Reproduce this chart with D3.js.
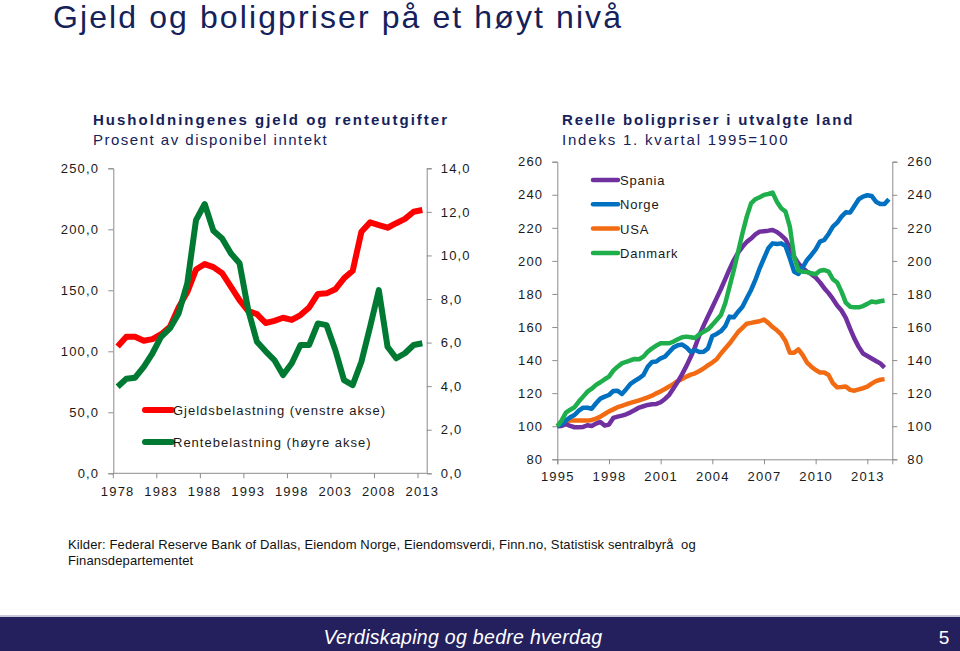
<!DOCTYPE html>
<html>
<head>
<meta charset="utf-8">
<script src="https://cdn.jsdelivr.net/npm/d3@7"></script>
<style>
  body { margin: 0; background: #fff; }
  svg { display: block; font-family: "Liberation Sans", Arial, sans-serif; }
</style>
</head>
<body>
<svg id="chart" width="960" height="651"></svg>
<script>
// left panel: household debt and interest burden, annual 1978-2013
var debtYears = d3.range(1978, 2014);
var gjeld = [104, 112, 112, 108.7, 110, 114, 120, 136, 148.5, 167, 171.5, 169, 164, 153, 142, 133,
    130.5, 123.2, 125, 127.5, 125.7, 129.7, 136, 147, 147.5, 150.8, 159.8, 166, 198, 205.7, 203.5,
    201.3, 205, 208.5, 214.4, 215.8];
var rente = [3.97, 4.34, 4.39, 4.89, 5.51, 6.27, 6.65, 7.34, 8.72, 11.62, 12.36, 11.13, 10.78, 10.1,
    9.64, 7.49, 6.04, 5.6, 5.2, 4.51, 5.05, 5.89, 5.89, 6.88, 6.8, 5.66, 4.28, 4.05, 5.12, 6.73, 8.41,
    5.81, 5.28, 5.51, 5.89, 5.97];
var debtYearLabels = [1978, 1983, 1988, 1993, 1998, 2003, 2008, 2013];
var leftTicks = [0, 50, 100, 150, 200, 250];
var rightTicks = [0, 2, 4, 6, 8, 10, 12, 14];

// right panel: real house prices, quarterly from 1995Q1
var startYear = 1995;
var spania = [100, 100.2, 101.2, 100.2, 99.4, 99.4, 99.6, 100.6, 100.2, 101.6, 102.6, 100.4,
    101, 105, 105.8, 106.4, 107.2, 108.4, 109.8, 111.3, 112.1, 112.9, 113.3, 113.5,
    114.5, 116.5, 119, 123, 127, 131.5, 136.5, 142, 148, 155, 161, 166.5,
    172, 177.5, 183, 189, 195, 200.5, 205, 208.5, 211.5, 213.5, 216, 217.7,
    218, 218.3, 218.7, 217.5, 215.5, 213, 208, 202.5, 198.5, 195.5, 193.5, 192,
    190, 187, 183.5, 180.5, 177, 173, 170, 165.5, 159, 153, 148, 144,
    142.5, 141, 139.5, 138, 135.5];
var norge = [100, 101.2, 103.4, 105.4, 106.8, 109.4, 111.2, 111.2, 110.6, 113.9, 116.7, 117.9,
    118.9, 121.3, 121.5, 119.5, 122.4, 125.6, 127.4, 129, 131, 136, 138.9, 139.1,
    141.1, 142.1, 144.9, 147.7, 149, 149.4, 147.7, 144.9, 146.1, 144.9, 145.1, 147.1,
    154.6, 155.8, 157.5, 160.5, 166.3, 165.9, 169.3, 172.3, 177.4, 182.4, 188.5, 195.5,
    201.6, 207.6, 210.6, 210.2, 210.6, 209, 201.6, 193.5, 192.1, 196.1, 200.6, 203.6,
    207, 211.7, 212.7, 216.3, 220.7, 223.1, 226.8, 229.4, 229.2, 233.2, 237.3, 238.9,
    239.7, 239.3, 235.8, 234.4, 234.4, 237.3];
var usa = [100, 102.2, 103.2, 103.4, 103.4, 103.4, 103.4, 103.4, 103.8, 104.6, 105.8, 107.4,
    109, 110.2, 111.5, 112.3, 113.3, 114.1, 114.9, 115.7, 116.5, 117.5, 118.5, 119.9,
    121.1, 122.5, 124.1, 125.6, 127.4, 128.6, 130, 131.2, 132, 133.4, 135, 136.9,
    138.5, 140.5, 144, 147, 150, 153.5, 157, 159.5, 162, 162.5, 163, 163.5,
    164.5, 162.5, 160, 158, 155.5, 151.5, 144.5, 144.5, 146.5, 143, 138.5, 136,
    134, 132.5, 132.5, 131, 126, 123.5, 123.7, 124, 122, 121.5, 122.3, 123,
    124, 125.8, 127.3, 128.1, 128.5];
var danmark = [100, 103.4, 108.2, 110, 111.5, 114.9, 117.9, 120.9, 122.7, 125, 126.6, 128.4,
    130, 133.6, 136, 138, 139, 139.9, 140.7, 140.5, 142.1, 145.1, 147.1, 148.8,
    150.2, 150.2, 150.2, 151.2, 152.6, 153.8, 154.2, 153.8, 153.4, 155.6, 157.2, 158.6,
    161.3, 164.3, 167.3, 174.4, 184.4, 194.5, 205.6, 216.7, 226.8, 234.8, 237.3, 238.5,
    239.9, 240.5, 241.3, 235.8, 231.8, 229.8, 220.7, 202.6, 194.1, 193.5, 193.3, 192.5,
    191.9, 194.1, 194.5, 193.5, 188.9, 186.9, 181.4, 174.8, 172.3, 171.9, 171.9, 172.7,
    174, 175.4, 175, 175.6, 176];
var priceYearLabels = [1995, 1998, 2001, 2004, 2007, 2010, 2013];
var priceTicks = [80, 100, 120, 140, 160, 180, 200, 220, 240, 260];

var navy = "#15215a",
    axisGrey = "#8c8c8c",
    labelColor = "#1a1a1a";

var svg = d3.select("#chart");

// title
svg.append("text")
    .attr("x", 53).attr("y", 28)
    .attr("font-size", 32).attr("fill", navy)
    .attr("letter-spacing", 2.1)
    .text("Gjeld og boligpriser på et høyt nivå");

function heading(x, title, sub, sp1, sp2) {
    svg.append("text").attr("x", x).attr("y", 125)
        .attr("font-size", 15).attr("font-weight", "bold").attr("fill", navy)
        .attr("letter-spacing", sp1)
        .text(title);
    svg.append("text").attr("x", x).attr("y", 145)
        .attr("font-size", 15).attr("fill", navy)
        .attr("letter-spacing", sp2)
        .text(sub);
}
heading(93, "Husholdningenes gjeld og renteutgifter", "Prosent av disponibel inntekt", 2, 1.5);
heading(562, "Reelle boligpriser i utvalgte land", "Indeks 1. kvartal 1995=100", 1.8, 1.8);

function styleAxis(g) {
    g.select(".domain").attr("stroke", axisGrey);
    g.selectAll(".tick line").attr("stroke", axisGrey);
    g.selectAll(".tick text")
        .attr("fill", labelColor)
        .attr("font-size", 13)
        .attr("letter-spacing", 1.2)
        .attr("font-family", "'Liberation Sans', Arial, sans-serif");
}

var fmt = function (d) { return d3.format(".1f")(d).replace(".", ","); };

// ---------- left panel ----------
var xL = d3.scaleBand().domain(debtYears).range([113.3, 426.7]);
var yL = d3.scaleLinear().domain([0, 250]).range([473.3, 168.3]);
var yR = d3.scaleLinear().domain([0, 14]).range([473.3, 168.3]);
var cx = function (yr) { return xL(yr) + xL.bandwidth() / 2; };

svg.append("g").attr("transform", "translate(113.3,0)")
    .call(d3.axisLeft(yL).tickValues(leftTicks).tickFormat(fmt).tickSize(5).tickPadding(9))
    .call(styleAxis);
svg.append("g").attr("transform", "translate(426.7,0)")
    .call(d3.axisRight(yR).tickValues(rightTicks).tickFormat(fmt).tickSize(5).tickPadding(9))
    .call(styleAxis);

var xAxisL = svg.append("g").attr("transform", "translate(0,473.3)");
xAxisL.append("line").attr("x1", 113.3).attr("x2", 426.7).attr("stroke", axisGrey);
xAxisL.selectAll("line.tk").data(debtYearLabels).join("line").attr("class", "tk")
    .attr("x1", function (d) { return xL(d); }).attr("x2", function (d) { return xL(d); })
    .attr("y1", 0).attr("y2", 5).attr("stroke", axisGrey);
xAxisL.selectAll("text").data(debtYearLabels).join("text")
    .attr("x", function (d) { return cx(d); }).attr("y", 23)
    .attr("text-anchor", "middle").attr("font-size", 13).attr("letter-spacing", 1.2)
    .attr("fill", labelColor)
    .text(function (d) { return d; });

var lineL = d3.line().x(function (d, i) { return cx(debtYears[i]); });
svg.append("path")
    .attr("d", lineL.y(function (d) { return yL(d); })(gjeld))
    .attr("fill", "none").attr("stroke", "#ff0000").attr("stroke-width", 6)
    .attr("stroke-linejoin", "round");
svg.append("path")
    .attr("d", lineL.y(function (d) { return yR(d); })(rente))
    .attr("fill", "none").attr("stroke", "#007a33").attr("stroke-width", 6)
    .attr("stroke-linejoin", "round");

var legendL = [
    { name: "Gjeldsbelastning (venstre akse)", color: "#ff0000", y: 410 },
    { name: "Rentebelastning (høyre akse)", color: "#007a33", y: 442 }
];
legendL.forEach(function (d) {
    svg.append("line").attr("x1", 145).attr("x2", 172).attr("y1", d.y).attr("y2", d.y)
        .attr("stroke", d.color).attr("stroke-width", 6).attr("stroke-linecap", "round");
    svg.append("text").attr("x", 173).attr("y", d.y + 5)
        .attr("font-size", 13).attr("letter-spacing", 1).attr("fill", labelColor)
        .text(d.name);
});

// ---------- right panel ----------
var xP = d3.scaleLinear().domain([1995, 2014.45]).range([557.3, 892.3]);
var yP = d3.scaleLinear().domain([80, 260]).range([459.3, 161.7]);

svg.append("g").attr("transform", "translate(557.3,0)")
    .call(d3.axisLeft(yP).tickValues(priceTicks).tickSize(5).tickPadding(9))
    .call(styleAxis);
svg.append("g").attr("transform", "translate(892.3,0)")
    .call(d3.axisRight(yP).tickValues(priceTicks).tickSize(5).tickPadding(10))
    .call(styleAxis);
svg.append("g").attr("transform", "translate(0,459.3)")
    .call(d3.axisBottom(xP).tickValues(priceYearLabels).tickFormat(d3.format("d"))
        .tickSize(5).tickPadding(7))
    .call(styleAxis);

var lineP = d3.line()
    .x(function (d, i) { return xP(startYear + i / 4); })
    .y(function (d) { return yP(d); });

var seriesP = [
    { name: "Spania", values: spania, color: "#7030a0" },
    { name: "Norge", values: norge, color: "#0070c0" },
    { name: "USA", values: usa, color: "#f26b12" },
    { name: "Danmark", values: danmark, color: "#1fae4c" }
];
// draw order: USA, Spania, Norge, Danmark on top
[2, 0, 1, 3].forEach(function (k) {
    var s = seriesP[k];
    svg.append("path").attr("d", lineP(s.values))
        .attr("fill", "none").attr("stroke", s.color).attr("stroke-width", 4.5)
        .attr("stroke-linejoin", "round");
});

seriesP.forEach(function (s, i) {
    var y = 180 + i * 24.3;
    svg.append("line").attr("x1", 593).attr("x2", 618).attr("y1", y).attr("y2", y)
        .attr("stroke", s.color).attr("stroke-width", 4.5).attr("stroke-linecap", "round");
    svg.append("text").attr("x", 620).attr("y", y + 5)
        .attr("font-size", 13).attr("letter-spacing", 0.8).attr("fill", labelColor)
        .text(s.name);
});

// source
svg.append("text").attr("x", 68).attr("y", 549).attr("font-size", 13).attr("fill", "#111")
    .attr("letter-spacing", 0.13)
    .style("white-space", "pre")
    .text("Kilder: Federal Reserve Bank of Dallas, Eiendom Norge, Eiendomsverdi, Finn.no, Statistisk sentralbyrå  og");
svg.append("text").attr("x", 68).attr("y", 565).attr("font-size", 13).attr("fill", "#111")
    .attr("letter-spacing", 0.13)
    .text("Finansdepartementet");

// footer band
svg.append("rect").attr("x", 0).attr("y", 615).attr("width", 960).attr("height", 3).attr("fill", "#c9c8dc");
svg.append("rect").attr("x", 0).attr("y", 617).attr("width", 960).attr("height", 34).attr("fill", "#24205e");
svg.append("text").attr("x", 463).attr("y", 644).attr("text-anchor", "middle")
    .attr("font-size", 19.5).attr("font-style", "italic").attr("fill", "#fff")
    .attr("letter-spacing", 0.3)
    .text("Verdiskaping og bedre hverdag");
svg.append("text").attr("x", 944).attr("y", 644).attr("text-anchor", "middle")
    .attr("font-size", 19).attr("fill", "#fff")
    .text("5");
</script>
</body>
</html>
